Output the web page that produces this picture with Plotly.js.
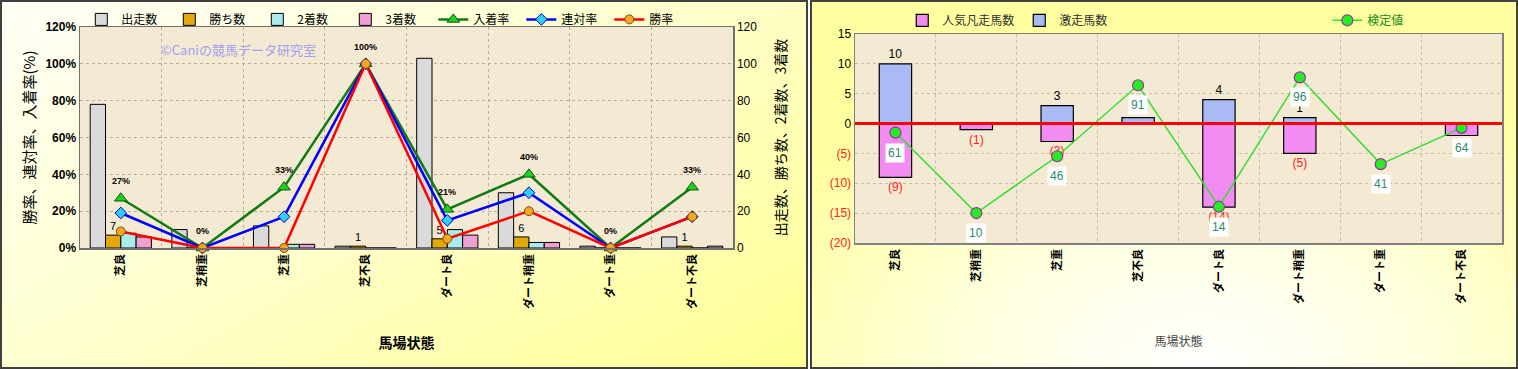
<!DOCTYPE html>
<html><head><meta charset="utf-8">
<script src="https://cdn.plot.ly/plotly-3.0.1.min.js"></script>
<style>
body{margin:0;width:1518px;height:369px;overflow:hidden;background:#ffffff;}
#left{position:absolute;left:0;top:0;width:808px;height:369px;background:linear-gradient(150deg,#fffff6 0%,#ffffd0 45%,#ffff94 100%);}
#right{position:absolute;left:810px;top:0;width:708px;height:369px;background:radial-gradient(ellipse 70% 90% at 55% 100%,#ffffff 0%,#ffffe0 45%,#ffffa0 100%);}
.frame{position:absolute;top:0;height:369px;box-sizing:border-box;border:2px solid #404040;pointer-events:none;}
</style></head>
<body>
<div id="left"></div>
<div id="right"></div>
<div class="frame" style="left:0;width:808px;"></div>
<div class="frame" style="left:810px;width:708px;"></div>
<script>
// ---- data ----
var categories = ['芝良','芝稍重','芝重','芝不良','ダート良','ダート稍重','ダート重','ダート不良'];
// left chart: counts
var runs    = [78, 10, 12, 1, 103, 30, 1, 6];
var wins    = [7, 0, 0, 1, 5, 6, 0, 1];
var seconds = [8, 0, 2, 0, 10, 3, 0, 0];
var thirds  = [6, 0, 2, 0, 7, 3, 0, 1];
// left chart: rates (%)
var placeRate  = [27, 0, 33, 100, 21, 40, 0, 33];
var rentaiRate = [19, 0, 17, 100, 15, 30, 0, 17];
var winRate    = [9, 0, 0, 100, 5, 20, 0, 17];
// right chart
var gekisou  = [10, 0, 3, 1, 4, 1, 0, 0];
var bonsou   = [-9, -1, -3, 0, -14, -5, 0, -2];
var kentei   = [61, 10, 46, 91, 14, 96, 41, 64];
var rightTickVals = [-20, -15, -10, -5, 0, 5, 10, 15];
var rightTickText = ['(20)','(15)','(10)','(5)','0','5','10','15'];

var F = "'Liberation Sans', 'Noto Sans CJK JP', sans-serif";
var FJ = "'Noto Sans CJK JP', sans-serif";
var PLOTBG = '#f4ead3';

// ---- left chart ----
function barTrace(name, vals, color, withText) {
  return {
    type: 'bar', name: name, x: categories, y: vals, yaxis: 'y',
    marker: {color: color, line: {color: '#000', width: 1}},
    text: withText ? vals.map(function(v){return v ? String(v) : '';}) : null,
    textposition: withText ? 'outside' : 'none',
    textfont: {size: 11, color: '#000', family: F},
    constraintext: 'none', cliponaxis: false
  };
}
function lineTrace(name, vals, lineColor, sym, mColor, mLine, size) {
  return {
    type: 'scatter', mode: 'lines+markers', name: name, x: categories, y: vals, yaxis: 'y2',
    line: {color: lineColor, width: 2.5},
    marker: {symbol: sym, color: mColor, size: size, line: {color: mLine, width: 1}},
    cliponaxis: false
  };
}
var leftData = [
  barTrace('出走数', runs, '#dadada', false),
  barTrace('勝ち数', wins, '#e3a90a', true),
  barTrace('2着数', seconds, '#a8ecec', false),
  barTrace('3着数', thirds, '#eea0d2', false),
  lineTrace('入着率', placeRate, '#127a12', 'triangle-up', '#22cc22', '#0a5a0a', 11),
  lineTrace('連対率', rentaiRate, '#0000ff', 'diamond', '#33ccff', '#0000aa', 9),
  lineTrace('勝率', winRate, '#ff0000', 'circle', '#f5a623', '#805000', 9)
];
var leftAnn = placeRate.map(function(v, i){
  return {x: categories[i], y: v, xref: 'x', yref: 'y2', text: '<b>' + Math.round(v) + '%</b>',
    showarrow: false, yshift: 17, font: {size: 9, color: '#000', family: F}};
});
leftAnn.push({xref: 'paper', yref: 'paper', x: 0.243, y: 0.896, xanchor: 'center', yanchor: 'middle',
  text: '©Caniの競馬データ研究室', showarrow: false, font: {size: 13, color: '#a0a0f0', family: FJ}});

var leftLayout = {
  width: 808, height: 369,
  margin: {l: 80, r: 75, t: 27, b: 121, autoexpand: false},
  paper_bgcolor: 'rgba(0,0,0,0)', plot_bgcolor: PLOTBG,
  font: {family: F, color: '#000'},
  barmode: 'group', bargap: 0.25, bargroupgap: 0,
  showlegend: true,
  legend: {orientation: 'h', x: 0.002, y: 1.1, xanchor: 'left', yanchor: 'top', entrywidth: 43,
    font: {size: 12, family: FJ}, bgcolor: 'rgba(0,0,0,0)', traceorder: 'normal', itemwidth: 30},
  xaxis: {type: 'category', tickangle: -90, tickson: 'boundaries', ticks: '',
    tickfont: {size: 11, weight: 'bold', family: FJ},
    showgrid: true, gridcolor: '#b9ae98', griddash: 'dot',
    showline: true, linecolor: '#707070', linewidth: 1.5, mirror: true,
    title: {text: '馬場状態', font: {size: 14, weight: 'bold', family: FJ}, standoff: 30}},
  yaxis: {range: [0, 120], dtick: 20, side: 'right', showgrid: true, gridcolor: '#b9ae98', griddash: 'dot',
    tickfont: {size: 12, family: F}, zeroline: false, ticks: '',
    showline: true, linecolor: '#707070', linewidth: 1.5,
    title: {text: '出走数、勝ち数、2着数、3着数', font: {size: 14, family: FJ}, standoff: 20}},
  yaxis2: {range: [0, 120], dtick: 20, overlaying: 'y', side: 'left', showgrid: false, zeroline: false,
    ticksuffix: '%', tickfont: {size: 12, weight: 'bold', family: F}, ticks: '',
    showline: true, linecolor: '#707070', linewidth: 1.5,
    title: {text: '勝率、連対率、入着率(%)', font: {size: 15, family: FJ}, standoff: 6}},
  annotations: leftAnn
};
Plotly.newPlot('left', leftData, leftLayout, {displayModeBar: false, staticPlot: true});

// ---- right chart ----
var rightData = [
  {type: 'bar', name: '人気凡走馬数', x: categories, y: bonsou, yaxis: 'y',
   marker: {color: '#f38cf2', line: {color: '#000', width: 1.2}},
   text: bonsou.map(function(v){return v ? '(' + Math.abs(v) + ')' : '';}),
   textposition: 'outside', textfont: {size: 12, color: '#ff2020', family: F},
   constraintext: 'none', cliponaxis: false, legend: 'legend'},
  {type: 'bar', name: '激走馬数', x: categories, y: gekisou, yaxis: 'y',
   marker: {color: '#a9baf4', line: {color: '#000', width: 1.2}},
   text: gekisou.map(function(v){return v ? String(v) : '';}),
   textposition: 'outside', textfont: {size: 12, color: '#000', family: F},
   constraintext: 'none', cliponaxis: false, legend: 'legend'},
  {type: 'scatter', mode: 'lines+markers', name: '検定値', x: categories, y: kentei, yaxis: 'y2',
   line: {color: '#33dd33', width: 1.5},
   marker: {symbol: 'circle', size: 11, color: '#22ee22', line: {color: '#993399', width: 1.2}},
   cliponaxis: false, legend: 'legend2'}
];
var rightAnn = kentei.map(function(v, i){
  return {x: categories[i], y: v, xref: 'x', yref: 'y2', text: String(v), showarrow: false,
    yshift: -20, bgcolor: '#ffffff', borderpad: 2, font: {size: 12, color: '#2e8b6e', family: F}};
});
var rightLayout = {
  width: 708, height: 369,
  margin: {l: 45, r: 16, t: 34, b: 126, autoexpand: false},
  paper_bgcolor: 'rgba(0,0,0,0)', plot_bgcolor: PLOTBG,
  font: {family: F, color: '#000'},
  barmode: 'relative', bargap: 0.6,
  showlegend: true,
  legend: {orientation: 'h', x: 0.073, y: 1.135, xanchor: 'left', yanchor: 'top',
    font: {size: 12, color: '#333', family: FJ}, bgcolor: 'rgba(0,0,0,0)', traceorder: 'normal', itemwidth: 30},
  legend2: {orientation: 'h', x: 0.73, y: 1.135, xanchor: 'left', yanchor: 'top',
    font: {size: 12, color: '#1a8a1a', family: FJ}, bgcolor: 'rgba(0,0,0,0)', itemwidth: 30},
  xaxis: {type: 'category', tickangle: -90, tickson: 'boundaries', ticks: '',
    tickfont: {size: 11, weight: 'bold', family: FJ},
    showgrid: true, gridcolor: '#c8bea8', griddash: 'dot',
    showline: true, linecolor: '#808080', linewidth: 1.5, mirror: true,
    title: {text: '馬場状態', font: {size: 12, color: '#444', family: FJ}, standoff: 34}},
  yaxis: {range: [-20, 15], tickvals: rightTickVals,
    ticktext: rightTickText.map(function(t){ return t.charAt(0) === '(' ? '<span style="color:#ff2020">' + t + '</span>' : t; }),
    tickfont: {size: 12, family: F}, ticks: '', showgrid: true, gridcolor: '#c8bea8', griddash: 'dot',
    zeroline: false, showline: true, linecolor: '#808080', linewidth: 1.5, mirror: true},
  yaxis2: {range: [-9, 123.5], overlaying: 'y', visible: false, showgrid: false, zeroline: false},
  shapes: [{type: 'line', xref: 'paper', x0: 0, x1: 1, yref: 'y', y0: 0, y1: 0,
    line: {color: '#ff0000', width: 3}, layer: 'above'}],
  annotations: rightAnn
};
Plotly.newPlot('right', rightData, rightLayout, {displayModeBar: false, staticPlot: true});
</script>
</body></html>
